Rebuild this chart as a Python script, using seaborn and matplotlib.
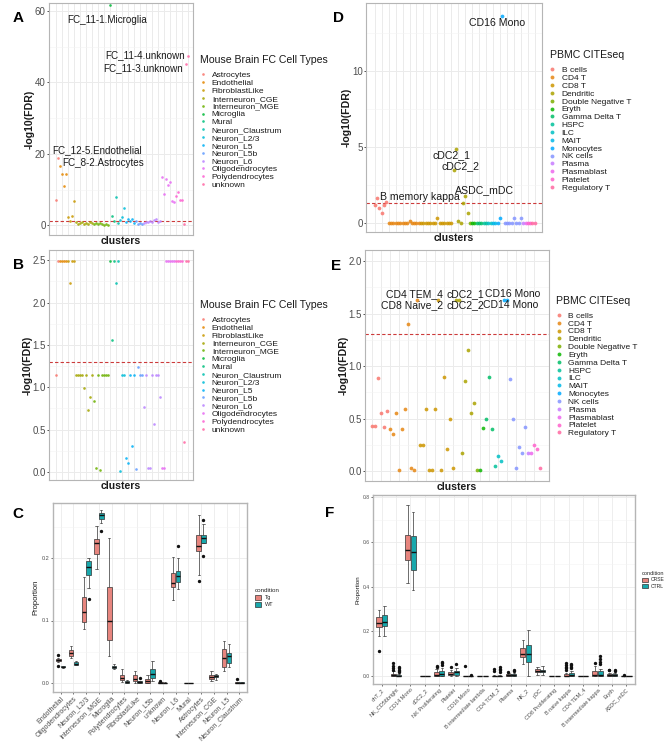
import numpy as np
import pandas as pd
import matplotlib
matplotlib.use('Agg')
import matplotlib.pyplot as plt
import seaborn as sns
from matplotlib.lines import Line2D
from matplotlib.patches import Patch
from matplotlib.ticker import MultipleLocator

sns.set_theme(style='white')
plt.rcParams['font.family'] = ['Liberation Sans', 'DejaVu Sans']

# ---------------- data ----------------
fc_types = ['Astrocytes', 'Endothelial', 'FibroblastLike', 'Interneuron_CGE', 'Interneuron_MGE',
            'Microglia', 'Mural', 'Neuron_Claustrum', 'Neuron_L2/3', 'Neuron_L5', 'Neuron_L5b',
            'Neuron_L6', 'Oligodendrocytes', 'Polydendrocytes', 'unknown']
fc_colors = ['#F8766D', '#E58700', '#C99800', '#A3A500', '#6BB100', '#00BA38', '#00BF7D', '#00C0AF',
             '#00BCD8', '#00B0F6', '#619CFF', '#B983FF', '#E76BF3', '#FD61D1', '#FF67A4']

pbmc_types = ['B cells', 'CD4 T', 'CD8 T', 'Dendritic', 'Double Negative T', 'Eryth', 'Gamma Delta T',
              'HSPC', 'ILC', 'MAIT', 'Monocytes', 'NK cells', 'Plasma', 'Plasmablast', 'Platelet',
              'Regulatory T']
pbmc_colors = ['#F8766D', '#E68613', '#CD9600', '#ABA300', '#7CAE00', '#0CB702', '#00BE67', '#00C19A',
               '#00BFC4', '#00B8E7', '#00A9FF', '#8494FF', '#C77CFF', '#ED68ED', '#FF61CC', '#FF68A1']

# -log10(FDR) per cluster, one list per cell type (same order as fc_types)
a_fdr = [[7.2, 18.9], [16.7, 14.3, 11.0, 14.5], [2.2, 1.3, 2.7, 6.7],
         [0.8, 0.3, 0.6, 0.9, 0.4, 0.7, 0.5, 0.8, 0.6], [0.5, 0.7, 0.3, 0.6, 0.4, 0.2, 0.5, 0.1],
         [61.7], [2.7, 1.2], [8.0, 0.6], [1.5, 2.2, 4.9], [0.9, 1.7, 1.2, 1.8, 0.7],
         [1.1, 0.4, 0.7, 0.3], [0.6, 1.0, 0.8, 1.3, 0.9, 1.5, 1.8, 1.0, 1.2],
         [13.6, 8.9, 13.1, 11.2, 12.0, 6.8, 6.4], [8.2, 9.2, 7.0, 7.2], [0.3, 45.0, 47.3]]
b_fdr = [[1.15, 2.49], [2.49, 2.49, 2.49, 2.49], [2.49, 2.23, 2.49, 2.49],
         [1.15, 1.15, 1.15, 1.15, 0.99, 1.15, 0.73, 0.89, 1.15], [0.84, 0.05, 1.15, 0.02, 1.15, 1.15, 1.15, 1.15],
         [2.49], [1.56, 2.49], [2.23, 2.49], [0.01, 1.15, 1.15], [0.16, 0.11, 1.15, 0.31, 1.15],
         [0.03, 1.24, 1.15, 1.15], [0.77, 1.15, 0.05, 0.05, 1.15, 0.57, 1.15, 1.15, 0.89],
         [0.05, 0.05, 2.49, 2.49, 2.49, 2.49, 2.49], [2.49, 2.49, 2.49, 2.49], [0.36, 2.49, 2.49]]
d_fdr = [[1.16, 1.6, 0.95, 0.62, 1.16, 1.38],
         [0, 0, 0, 0, 0, 0, 0, 0, 0, 0.13, 0, 0, 0, 0],
         [0, 0, 0, 0, 0, 0, 0, 0.29, 0, 0, 0, 0, 0, 0],
         [3.47, 4.86, 0.1, 0, 1.32, 1.78, 0.62],
         [0], [0, 0], [0, 0, 0], [0, 0], [0, 0], [0, 0], [0, 0.29, 13.6],
         [0, 0, 0, 0, 0.29, 0, 0, 0.29], [0], [0], [0, 0], [0, 0]]
e_fdr = [[0.43, 0.43, 0.89, 0.55, 0.42, 0.57],
         [0.40, 0.35, 0.55, 0.01, 0.40, 0.59, 1.40, 0.03, 0.01, 1.63],
         [0.25, 0.25, 0.59, 0.01, 0.01, 0.59, 1.63, 0.01, 0.90, 0.21, 0.50, 0.03],
         [1.63, 1.63, 0.17, 0.86, 1.15, 0.55, 0.65],
         [0.01], [0.01, 0.41], [0.50, 0.90, 0.40], [0.05], [0.14, 0.10], [],
         [1.63, 1.63], [0.88, 0.50, 0.03, 0.23, 0.17, 0.42], [0.17], [0.17], [0.25, 0.21], [0.03]]

# labelled clusters: text, cell type, index within that cell type
a_labels = [('FC_11-1.Microglia', 'Microglia', 0), ('FC_11-4.unknown', 'unknown', 2),
            ('FC_11-3.unknown', 'unknown', 1), ('FC_12-5.Endothelial', 'Endothelial', 0),
            ('FC_8-2.Astrocytes', 'Astrocytes', 1)]
d_labels = [('CD16 Mono', 'Monocytes', 2), ('cDC2_1', 'Dendritic', 1), ('cDC2_2', 'Dendritic', 0),
            ('ASDC_mDC', 'Dendritic', 5), ('B memory kappa', 'B cells', 1)]
e_labels = [('CD4 TEM_4', 'CD4 T', 9), ('CD8 Naive_2', 'CD8 T', 6), ('cDC2_1', 'Dendritic', 0),
            ('cDC2_2', 'Dendritic', 1), ('CD16 Mono', 'Monocytes', 1), ('CD14 Mono', 'Monocytes', 0)]

# box plot summaries (lo whisker, q1, median, q3, hi whisker) and outliers
c_clusters = ['Endothelial', 'Oligodendrocytes', 'Neuron_L2/3', 'Interneuron_MGE', 'Microglia',
              'Polydendrocytes', 'FibroblastLike', 'Neuron_L5b', 'unknown', 'Neuron_L6', 'Mural',
              'Astrocytes', 'Interneuron_CGE', 'Neuron_L5', 'Neuron_Claustrum']
c_conditions = ['Tg', 'WT']
c_tg = [(0.0333, 0.0352, 0.0373, 0.0385, 0.0405), (0.040, 0.0427, 0.048, 0.0523, 0.060),
        (0.0864, 0.0976, 0.113, 0.1376, 0.170), (0.183, 0.2064, 0.224, 0.2304, 0.252),
        (0.0437, 0.0693, 0.0987, 0.1536, 0.232), (0.001, 0.0043, 0.008, 0.0133, 0.0224),
        (0.0, 0.0027, 0.0064, 0.0123, 0.0187), (0.0, 0.0005, 0.0027, 0.0064, 0.0133),
        (0.0, 0.0002, 0.0005, 0.001, 0.0015), (0.1333, 0.153, 0.160, 0.176, 0.201),
        (0.0, 0.0, 0.0002, 0.0004, 0.0006), (0.1733, 0.2107, 0.2187, 0.2373, 0.2693),
        (0.004, 0.0064, 0.0096, 0.0133, 0.0197), (0.0197, 0.0256, 0.040, 0.0544, 0.0667),
        (0.0, 0.0002, 0.0005, 0.001, 0.0015)]
c_tg_out = [[0.0442, 0.0277], [], [], [], [], [], [], [], [0.0037], [], [], [0.1637], [], [], [0.0069]]
c_wt = [(0.0245, 0.0252, 0.0258, 0.0265, 0.0272), (0.0285, 0.0288, 0.031, 0.0331, 0.0345),
        (0.152, 0.1723, 0.185, 0.1947, 0.200), (0.256, 0.2624, 0.2693, 0.272, 0.2763),
        (0.022, 0.0235, 0.0256, 0.0277, 0.031), (0.0, 0.0005, 0.001, 0.0032, 0.005),
        (0.0, 0.0005, 0.001, 0.0027, 0.004), (0.0027, 0.008, 0.0144, 0.0224, 0.0347),
        (0.0, 0.0, 0.0003, 0.0006, 0.001), (0.1504, 0.161, 0.1707, 0.1797, 0.200),
        (0.0, 0.0, 0.0002, 0.0004, 0.0006), (0.2037, 0.224, 0.232, 0.2373, 0.2544),
        (0.0053, 0.0091, 0.0107, 0.0128, 0.014), (0.0256, 0.032, 0.0427, 0.048, 0.063),
        (0.0, 0.0003, 0.0006, 0.001, 0.0014)]
c_wt_out = [[], [], [0.134], [0.244], [], [], [0.008], [], [], [0.2187], [], [0.2603], [], [], []]

f_clusters = ['dnT_2', 'NK_CD56bright', 'CD14 Mono', 'cDC2_2', 'NK Proliferating', 'Platelet',
              'CD16 Mono', 'B intermediate lambda', 'CD4 TCM_2', 'Plasma', 'NK_2', 'pDC',
              'CD8 Proliferating', 'B naive kappa', 'CD4 TEM_4', 'B intermediate kappa', 'Eryth', 'ASDC_mDC']
f_conditions = ['CRSE', 'CTRL']
f_crse = [(0.177, 0.2211, 0.236, 0.2657, 0.295), (0.0, 0.0, 0.004, 0.0104, 0.020),
          (0.417, 0.521, 0.5655, 0.6293, 0.7673), (0.0, 0.0, 0.0, 0.0003, 0.0005),
          (0.0, 0.0, 0.006, 0.0163, 0.030), (0.0, 0.0045, 0.0104, 0.0178, 0.028),
          (0.0, 0.0, 0.0005, 0.001, 0.0015), (0.0, 0.0, 0.0, 0.0003, 0.0005),
          (0.0, 0.0, 0.0005, 0.0015, 0.003), (0.0, 0.0005, 0.003, 0.0074, 0.012),
          (0.0534, 0.0846, 0.0994, 0.1247, 0.159), (0.006, 0.0163, 0.0237, 0.0312, 0.040),
          (0.0, 0.0, 0.0, 0.0003, 0.0005), (0.0, 0.0, 0.002, 0.0089, 0.015),
          (0.0, 0.0, 0.0, 0.0003, 0.0005), (0.0, 0.0, 0.003, 0.0208, 0.045),
          (0.0, 0.0015, 0.006, 0.0104, 0.015), (0.0, 0.0, 0.0, 0.0005, 0.001)]
f_crse_out = [[0.11], [0.058, 0.045, 0.035, 0.028], [], [], [0.045, 0.042], [0.040], [0.043], [],
              [0.030, 0.020], [0.018], [], [], [], [0.058, 0.050, 0.042, 0.035, 0.028], [], [0.060],
              [0.028, 0.025], [0.006]]
f_ctrl = [(0.181, 0.224, 0.2434, 0.273, 0.313), (0.0, 0.0, 0.002, 0.006, 0.010),
          (0.387, 0.4764, 0.5551, 0.6263, 0.736), (0.0, 0.0, 0.0, 0.0003, 0.0005),
          (0.0, 0.0015, 0.0104, 0.0208, 0.035), (0.0, 0.006, 0.0163, 0.0237, 0.035),
          (0.0, 0.0, 0.0005, 0.001, 0.0015), (0.0, 0.0, 0.0, 0.0003, 0.0005),
          (0.0, 0.0, 0.0005, 0.0015, 0.003), (0.0, 0.001, 0.004, 0.009, 0.015),
          (0.0, 0.0623, 0.0994, 0.1395, 0.206), (0.006, 0.016, 0.022, 0.028, 0.045),
          (0.0, 0.0, 0.0, 0.0003, 0.0005), (0.0, 0.0, 0.003, 0.0134, 0.020),
          (0.0, 0.0, 0.0, 0.0003, 0.0005), (0.0, 0.0, 0.0025, 0.0208, 0.030),
          (0.0, 0.0015, 0.005, 0.009, 0.013), (0.0, 0.0, 0.0, 0.0003, 0.0005)]
f_ctrl_out = [[], [0.042, 0.035, 0.028, 0.022, 0.018], [], [], [0.062, 0.056, 0.051], [0.055], [0.006], [],
              [0.040, 0.033, 0.026, 0.018], [0.028, 0.022], [], [], [], [0.055, 0.048, 0.040, 0.035], [],
              [0.0876, 0.075, 0.064, 0.055], [0.028, 0.024], []]

# ---------------- layout ----------------
W, H = 666, 745
fig = plt.figure(figsize=(W / 100, H / 100), dpi=100)


def rect(l, t, r, b):
    return [l / W, 1 - b / H, (r - l) / W, (b - t) / H]


GRID = '#EBEBEB'
BORDER = '#B5B5B5'
TICKC = '#4D4D4D'


def dot_legend(ax, title, types, colors, anchor, msize):
    handles = [Line2D([], [], marker='o', ls='', markersize=msize, markerfacecolor=c,
                      markeredgecolor='none', alpha=0.85) for c in colors]
    leg = ax.legend(handles, types, title=title, loc='upper left', bbox_to_anchor=anchor,
                    frameon=False, fontsize=6.0, title_fontsize=7.6, handlelength=0.6,
                    handletextpad=0.8, labelspacing=0.0, borderpad=0, borderaxespad=0)
    leg._legend_box.align = 'left'
    leg._legend_box.sep = 4.5
    leg.get_title().set_color('#1A1A1A')
    for t in leg.get_texts():
        t.set_color('#1A1A1A')


def strip_panel(ax, types, colors, vals, size, ylim, major, minor, xlim):
    names, groups, ys = [], [], []
    for t, v in zip(types, vals):
        for k, y in enumerate(v):
            names.append(f'{t}#{k}')
            groups.append(t)
            ys.append(y)
    df = pd.DataFrame({'cluster': names, 'type': groups, 'fdr': ys})
    sns.stripplot(data=df, x='cluster', y='fdr', hue='type', hue_order=types,
                  palette=dict(zip(types, colors)), order=names, jitter=False, size=size,
                  alpha=0.85, linewidth=0, legend=False, ax=ax, zorder=3)
    ax.axhline(-np.log10(0.05), color='#CC3A3A', ls=(0, (3, 2)), lw=0.8, zorder=2)
    ax.set_xlim(*xlim)
    ax.set_ylim(*ylim)
    ax.set_xticks(range(0, len(names), 3))
    ax.set_xticklabels([])
    ax.tick_params(axis='x', length=0, pad=0)
    ax.yaxis.set_major_locator(MultipleLocator(major))
    ax.yaxis.set_minor_locator(MultipleLocator(minor))
    ax.tick_params(axis='y', which='major', length=1.5, width=0.6, color='#333333',
                   labelsize=7, labelcolor=TICKC, pad=0.8, left=True)
    ax.tick_params(axis='y', which='minor', length=0)
    ax.grid(True, which='major', color=GRID, lw=0.7)
    ax.grid(True, which='minor', axis='y', color='#F3F3F3', lw=0.4)
    ax.set_axisbelow(True)
    for s in ax.spines.values():
        s.set_color(BORDER)
        s.set_linewidth(0.8)
    ax.set_xlabel('clusters', fontsize=7.6, fontweight='bold', labelpad=1, color='#1A1A1A')
    ax.set_ylabel('-log10(FDR)', fontsize=7.6, fontweight='bold', labelpad=0, color='#1A1A1A')
    return names, ys


def annotate(ax, names, ys, labels, offsets, size):
    for (text, t, k), (dx, dy, ha) in zip(labels, offsets):
        i = names.index(f'{t}#{k}')
        ax.annotate(text, xy=(i, ys[i]), xytext=(dx, dy), textcoords='offset pixels',
                    ha=ha, va='center', fontsize=size, color='#1A1A1A', zorder=4)


# Panel A
axA = fig.add_axes(rect(49, 3, 193, 235))
n, y = strip_panel(axA, fc_types, fc_colors, a_fdr, 1.9, (-2.7, 62.2), 20, 10, (-3.5, 68.5))
annotate(axA, n, y, a_labels,
         [(-3, -15, 'center'), (-3, 1, 'right'), (-3, -4, 'right'), (37, 16, 'center'), (4, -5, 'left')], 7.1)
dot_legend(axA, 'Mouse Brain FC Cell Types', fc_types, fc_colors, (1.05, 0.775), 1.9)

# Panel B
axB = fig.add_axes(rect(49, 250, 193, 480))
strip_panel(axB, fc_types, fc_colors, b_fdr, 1.9, (-0.094, 2.62), 0.5, 0.25, (-3.5, 68.5))
dot_legend(axB, 'Mouse Brain FC Cell Types', fc_types, fc_colors, (1.05, 0.783), 1.9)

# Panel D
axD = fig.add_axes(rect(366, 3, 542, 232))
n, y = strip_panel(axD, pbmc_types, pbmc_colors, d_fdr, 2.7, (-0.61, 14.48), 5, 2.5, (-3.75, 72.1))
annotate(axD, n, y, d_labels,
         [(-5, -7, 'center'), (-4, -6, 'center'), (7, 4, 'center'), (19, 6, 'center'), (3, 1, 'left')], 7.6)
dot_legend(axD, 'PBMC CITEseq', pbmc_types, pbmc_colors, (1.045, 0.794), 2.8)

# Panel E
axE = fig.add_axes(rect(365, 250, 549, 481))
n, y = strip_panel(axE, pbmc_types, pbmc_colors, e_fdr, 2.7, (-0.095, 2.105), 0.5, 0.25, (-2.4, 59.0))
annotate(axE, n, y, e_labels,
         [(-3, 6, 'center'), (-26, -5, 'center'), (9, 6, 'center'), (6, -5, 'center'),
          (6, 6, 'center'), (7, -5, 'center')], 7.5)
dot_legend(axE, 'PBMC CITEseq', pbmc_types, pbmc_colors, (1.04, 0.802), 2.8)


def box_sample(stats, out):
    lo, q1, med, q3, hi = stats
    return [lo] + [q1] * 10 + [med] * 10 + [q3] * 10 + [hi] + list(out)


def box_panel(ax, clusters, conds, stats_a, out_a, stats_b, out_b, colors, ylim, major, minor,
              xsize, ysize, anchor):
    rows = []
    for cond, stats, outs in [(conds[0], stats_a, out_a), (conds[1], stats_b, out_b)]:
        for clu, st, ot in zip(clusters, stats, outs):
            for v in box_sample(st, ot):
                rows.append((clu, cond, v))
    df = pd.DataFrame(rows, columns=['cluster', 'condition', 'prop'])
    sns.boxplot(data=df, x='cluster', y='prop', hue='condition', order=clusters, hue_order=conds,
                palette=colors, width=0.75, gap=0.05, linewidth=0.5, linecolor='#333333',
                legend=False, ax=ax,
                medianprops={'linewidth': 1.0, 'color': '#111111'},
                flierprops={'marker': 'o', 'markersize': 1.4, 'markerfacecolor': '#111111',
                            'markeredgecolor': '#111111'})
    ax.set_xlim(-0.6, len(clusters) - 0.4)
    ax.set_ylim(*ylim)
    ax.yaxis.set_major_locator(MultipleLocator(major))
    ax.yaxis.set_minor_locator(MultipleLocator(minor))
    ax.tick_params(axis='y', which='major', length=1.5, width=0.5, color='#333333',
                   labelsize=ysize, labelcolor=TICKC, pad=1, left=True)
    ax.tick_params(axis='y', which='minor', length=0)
    ax.tick_params(axis='x', length=1.5, width=0.5, color='#333333', labelsize=xsize,
                   labelcolor=TICKC, pad=1, bottom=True, labelrotation=45)
    for lbl in ax.get_xticklabels():
        lbl.set_ha('right')
        lbl.set_rotation_mode('anchor')
    ax.grid(True, which='major', color=GRID, lw=0.6)
    ax.grid(True, which='minor', axis='y', color='#F3F3F3', lw=0.4)
    ax.set_axisbelow(True)
    for s in ax.spines.values():
        s.set_color(BORDER)
        s.set_linewidth(1.0)
    ax.set_xlabel('')
    ax.set_ylabel('Proportion', fontsize=xsize + 0.5, color='#1A1A1A', labelpad=1.5)
    handles = [Patch(facecolor=sns.desaturate(c, 0.75), edgecolor='#333333', lw=0.5) for c in colors]
    leg = ax.legend(handles, conds, title='condition', loc='upper left', bbox_to_anchor=anchor,
                    frameon=False, fontsize=ysize, title_fontsize=ysize + 0.5, handlelength=1.2,
                    handleheight=0.9, handletextpad=0.6, labelspacing=0.35, borderpad=0, borderaxespad=0)
    leg._legend_box.align = 'left'


# Panel C
axC = fig.add_axes(rect(53, 503, 247, 692))
box_panel(axC, c_clusters, c_conditions, c_tg, c_tg_out, c_wt, c_wt_out, ['#F8766D', '#00BFC4'],
          (-0.0144, 0.288), 0.1, 0.05, 5, 4, (1.04, 0.55))

# Panel F
axF = fig.add_axes(rect(373, 495, 635, 684))
box_panel(axF, f_clusters, f_conditions, f_crse, f_crse_out, f_ctrl, f_ctrl_out, ['#F8766D', '#00BFC4'],
          (-0.036, 0.81), 0.2, 0.1, 4, 3.6, (1.025, 0.6))

# panel letters
for letter, px, py in [('A', 18.5, 18), ('D', 338, 18), ('B', 18.5, 265), ('E', 336, 266),
                       ('C', 17.5, 514), ('F', 330, 513)]:
    fig.text(px / W, 1 - py / H, letter, fontsize=11, fontweight='bold', ha='center', va='center',
             color='black')

fig.savefig('out.png', dpi=100)
